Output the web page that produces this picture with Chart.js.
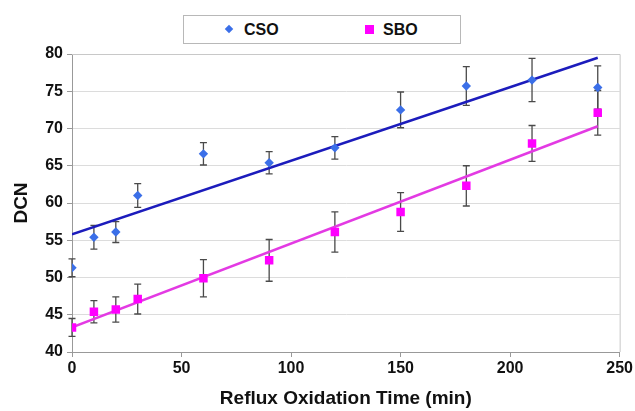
<!DOCTYPE html>
<html>
<head>
<meta charset="utf-8">
<script src="https://cdn.jsdelivr.net/npm/chart.js@4.4.1/dist/chart.umd.min.js"></script>
<style>
  html, body { margin: 0; padding: 0; background: #fff; }
  #wrap { position: relative; width: 635px; height: 411px; }
  #legend {
    position: absolute; left: 183px; top: 15px; width: 276px; height: 27px;
    border: 1px solid #b8b8b8; background: #fff;
    font: bold 16px 'Liberation Sans', Arial, sans-serif; color: #111;
  }
  #legend span { position: absolute; top: 5px; }
  .dia { position: absolute; left: 42px; top: 10px; width: 6px; height: 6px; background: #3b6fe8; transform: rotate(45deg); }
  .sq { position: absolute; left: 181px; top: 9px; width: 9px; height: 9px; background: #ff00ff; }
</style>
</head>
<body>
<div id="wrap">
  <canvas id="chart" width="635" height="411"></canvas>
  <div id="legend">
    <div class="dia"></div><span style="left:60px">CSO</span>
    <div class="sq"></div><span style="left:199px">SBO</span>
  </div>
</div>
<script>
const times = [0, 10, 20, 30, 60, 90, 120, 150, 180, 210, 240];
const cso = [51.3, 55.4, 56.1, 61.0, 66.6, 65.4, 67.4, 72.5, 75.7, 76.5, 75.5];
const csoErr = [1.2, 1.6, 1.4, 1.6, 1.5, 1.5, 1.5, 2.4, 2.6, 2.9, 2.9];
const sbo = [43.3, 45.4, 45.7, 47.1, 49.9, 52.3, 56.1, 58.8, 62.3, 68.0, 72.1];
const sboErr = [1.2, 1.5, 1.7, 2.0, 2.5, 2.8, 2.7, 2.6, 2.7, 2.4, 3.0];
const trendX = [0, 240];
const csoTrend = [55.8, 79.5];
const sboTrend = [43.3, 70.3];
const xTicks = [0, 50, 100, 150, 200, 250];
const yTicks = [40, 45, 50, 55, 60, 65, 70, 75, 80];

const pts = (xs, ys) => xs.map((x, i) => ({ x, y: ys[i] }));
const FONT = "'Liberation Sans', Arial, sans-serif";

const errorBars = {
  id: 'errorBars',
  beforeDatasetsDraw(chart) {
    const { ctx, scales: { x, y } } = chart;
    ctx.save();
    ctx.strokeStyle = '#4a4a4a';
    ctx.lineWidth = 1.3;
    [[cso, csoErr], [sbo, sboErr]].forEach(([vals, errs]) => {
      vals.forEach((v, i) => {
        const px = x.getPixelForValue(times[i]);
        const top = y.getPixelForValue(v + errs[i]);
        const bot = y.getPixelForValue(v - errs[i]);
        ctx.beginPath();
        ctx.moveTo(px, top); ctx.lineTo(px, bot);
        ctx.moveTo(px - 3.5, top); ctx.lineTo(px + 3.5, top);
        ctx.moveTo(px - 3.5, bot); ctx.lineTo(px + 3.5, bot);
        ctx.stroke();
      });
    });
    ctx.restore();
  },
  afterDraw(chart) {
    const { ctx, chartArea: a } = chart;
    ctx.save();
    ctx.strokeStyle = '#c8c8c8';
    ctx.lineWidth = 1;
    ctx.beginPath();
    ctx.moveTo(a.left, a.top + 0.5); ctx.lineTo(a.right + 0.5, a.top + 0.5); ctx.lineTo(a.right + 0.5, a.bottom);
    ctx.stroke();
    ctx.restore();
  }
};

new Chart(document.getElementById('chart'), {
  type: 'scatter',
  data: {
    datasets: [
      { label: 'CSO', data: pts(times, cso), pointStyle: 'rectRot', pointRadius: 4.7, backgroundColor: '#3b6fe8', borderWidth: 0, order: 0 },
      { label: 'SBO', data: pts(times, sbo), pointStyle: 'rect', pointRadius: 6, backgroundColor: '#ff00ff', borderWidth: 0, order: 0 },
      { type: 'line', label: 'CSO trend', data: pts(trendX, csoTrend), borderColor: '#1c1cbc', borderWidth: 2.5, pointRadius: 0, order: 1 },
      { type: 'line', label: 'SBO trend', data: pts(trendX, sboTrend), borderColor: '#e33ae3', borderWidth: 2.5, pointRadius: 0, order: 1 }
    ]
  },
  options: {
    responsive: false,
    animation: false,
    layout: { padding: { top: 54, right: 12, left: 10, bottom: 0 } },
    plugins: { legend: { display: false }, tooltip: { enabled: false } },
    scales: {
      x: {
        type: 'linear', min: 0, max: 250,
        afterBuildTicks: s => { s.ticks = xTicks.map(v => ({ value: v })); },
        afterFit: s => { s.height = 59; },
        grid: { drawOnChartArea: false, tickLength: 5, color: '#999' },
        border: { color: '#999', width: 1 },
        ticks: { color: '#111', font: { family: FONT, size: 16, weight: 'bold' }, padding: 2 },
        title: { display: true, text: 'Reflux Oxidation Time (min)', color: '#111', font: { family: FONT, size: 19, weight: 'bold' }, padding: { top: 10, bottom: 1 } }
      },
      y: {
        min: 40, max: 80,
        afterBuildTicks: s => { s.ticks = yTicks.map(v => ({ value: v })); },
        afterFit: s => { s.width = 62; },
        grid: { color: '#dcdcdc', tickColor: '#999', tickLength: 5 },
        border: { color: '#999', width: 1 },
        ticks: { color: '#111', font: { family: FONT, size: 16, weight: 'bold' }, padding: 4 },
        title: { display: true, text: 'DCN', color: '#111', font: { family: FONT, size: 19, weight: 'bold' }, padding: 0 }
      }
    }
  },
  plugins: [errorBars]
});
</script>
</body>
</html>
